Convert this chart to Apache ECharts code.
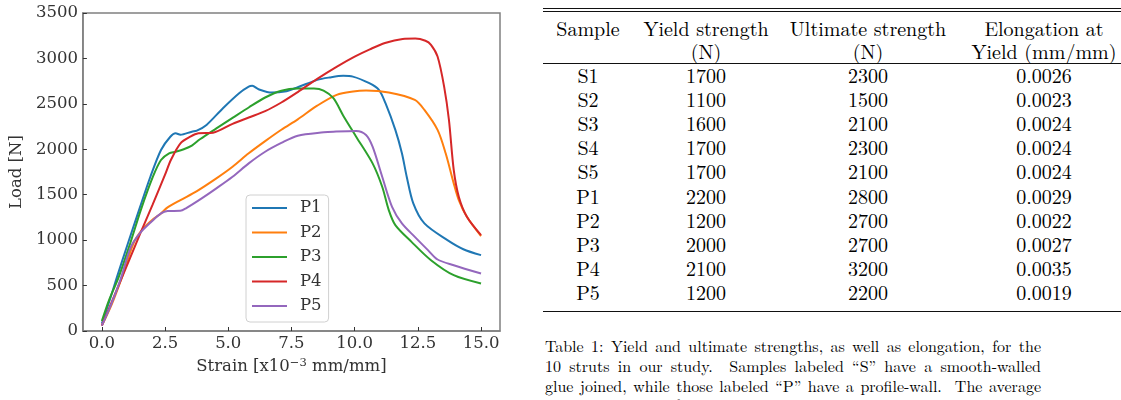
<!DOCTYPE html>
<html>
<head>
<meta charset="utf-8">
<script src="https://cdn.jsdelivr.net/npm/echarts@6/dist/echarts.min.js"></script>
<style>
  html, body { margin: 0; padding: 0; width: 1121px; height: 400px; overflow: hidden; background: #fff; }
  #chart { position: absolute; left: 0; top: 0; width: 530px; height: 400px; }
  .rule { position: absolute; left: 543px; width: 578px; background: #111; }
  .cell { position: absolute; transform: translate(-50%, -50%); white-space: nowrap;
          font-family: "Latin Modern Roman", "Liberation Serif", serif; font-size: 20px; color: #000; line-height: 22px; }
  .cap { position: absolute; left: 545px; height: 20px; line-height: 20px;
         font-family: "Latin Modern Roman", "Liberation Serif", serif; font-size: 16px; color: #000;
         white-space: pre; }
</style>
</head>
<body>
<div id="chart"></div>
<div id="table"></div>
<script>
// ---- chart data ----
const seriesNames = ["P1", "P2", "P3", "P4", "P5"];
const strainP1 = [0, 0.3, 0.6, 1.03, 1.47, 1.92, 2.34, 2.7, 2.92, 3.11, 3.56, 3.76, 4.14, 4.79, 5.43, 5.81, 5.95, 6.2, 6.72, 7.23, 7.75, 8.52, 9.0, 9.55, 9.93, 10.58, 10.96, 11.22, 11.61, 11.87, 12.06, 12.32, 12.76, 13.67, 14.3, 15.0];
const loadP1   = [82, 330, 596, 963, 1331, 1698, 1992, 2135, 2176, 2160, 2194, 2205, 2268, 2452, 2617, 2690, 2698, 2661, 2624, 2635, 2683, 2764, 2790, 2808, 2800, 2727, 2654, 2507, 2213, 1956, 1698, 1404, 1184, 1000, 900, 835];
const strainP2 = [0, 0.4, 0.8, 1.25, 1.61, 2.0, 2.34, 2.6, 3.11, 3.76, 4.53, 5.17, 5.81, 6.46, 7.1, 7.75, 8.52, 9.29, 9.94, 10.45, 11.35, 12.38, 12.76, 13.28, 13.6, 13.92, 14.12, 14.44, 15.0];
const loadP2   = [60, 300, 596, 963, 1120, 1225, 1294, 1360, 1441, 1540, 1680, 1808, 1956, 2090, 2215, 2330, 2480, 2599, 2636, 2646, 2624, 2543, 2433, 2213, 1956, 1625, 1441, 1257, 1045];
const strainP3 = [0, 0.3, 0.67, 1.12, 1.54, 2.02, 2.34, 2.66, 2.92, 3.24, 3.56, 3.88, 4.53, 5.17, 5.81, 6.46, 7.1, 7.75, 8.39, 8.77, 9.16, 9.55, 10.06, 10.71, 11.09, 11.35, 11.61, 12.25, 13.02, 13.92, 15.0];
const loadP3   = [110, 350, 596, 963, 1331, 1698, 1882, 1955, 1973, 2000, 2040, 2110, 2230, 2345, 2460, 2570, 2645, 2668, 2668, 2646, 2562, 2370, 2139, 1845, 1588, 1331, 1165, 981, 779, 614, 523];
const strainP4 = [0, 0.73, 1.5, 2.0, 2.5, 2.73, 3.11, 3.5, 3.82, 4.4, 5.17, 5.81, 6.46, 7.1, 7.75, 8.52, 9.3, 10.0, 10.6, 11.2, 11.9, 12.4, 12.8, 13.02, 13.28, 13.54, 13.73, 13.92, 14.12, 14.44, 15.0];
const loadP4   = [60, 545, 1060, 1385, 1720, 1882, 2066, 2139, 2176, 2183, 2280, 2350, 2420, 2515, 2630, 2775, 2910, 3020, 3100, 3170, 3215, 3220, 3195, 3150, 3021, 2690, 2323, 1772, 1478, 1257, 1055];
const strainP5 = [0, 0.35, 0.73, 1.14, 1.5, 1.95, 2.34, 2.6, 3.1, 3.31, 3.95, 4.53, 5.17, 5.81, 6.46, 7.1, 7.75, 8.78, 9.16, 10.06, 10.45, 10.71, 11.09, 11.48, 11.87, 12.38, 12.9, 13.28, 13.92, 15.0];
const loadP5   = [60, 280, 560, 920, 1074, 1200, 1294, 1320, 1323, 1348, 1460, 1570, 1698, 1845, 1973, 2070, 2150, 2187, 2194, 2202, 2158, 2029, 1698, 1367, 1184, 1036, 890, 787, 724, 632];
const xTicks = [0, 2.5, 5, 7.5, 10, 12.5, 15];

// ---- table data ----
const headerLine1 = ["Sample", "Yield strength", "Ultimate strength", "Elongation at"];
const headerLine2 = ["", "(N)", "(N)", "Yield (mm/mm)"];
const samples   = ["S1", "S2", "S3", "S4", "S5", "P1", "P2", "P3", "P4", "P5"];
const yieldN    = ["1700", "1100", "1600", "1700", "1700", "2200", "1200", "2000", "2100", "1200"];
const ultimateN = ["2300", "1500", "2100", "2300", "2100", "2800", "2700", "2700", "3200", "2200"];
const elongation = ["0.0026", "0.0023", "0.0024", "0.0024", "0.0024", "0.0029", "0.0022", "0.0027", "0.0035", "0.0019"];
const captionLines = [
  "Table 1: Yield and ultimate strengths, as well as elongation, for the",
  "10 struts in our study.  Samples labeled \u201cS\u201d have a smooth-walled",
  "glue joined, while those labeled \u201cP\u201d have a profile-wall.  The average",
  "ultimate strength for the smooth-walled struts is 2000 \u00b1 300N, while"
];

// ---- build chart ----
const colors = ["#1f77b4", "#ff7f0e", "#2ca02c", "#d62728", "#9467bd"];
const strains = [strainP1, strainP2, strainP3, strainP4, strainP5];
const loads = [loadP1, loadP2, loadP3, loadP4, loadP5];
const FONT = "'DejaVu Serif', serif";
const FS = 16.5;

const chart = echarts.init(document.getElementById("chart"), null, { renderer: "canvas" });
chart.setOption({
  animation: false,
  color: colors,
  grid: { left: 73, top: 13, width: 427, height: 318, show: true, borderColor: "#808080", borderWidth: 1.5, backgroundColor: "transparent" },
  xAxis: {
    type: "value", min: -0.75, max: 15.75,
    axisLine: { show: true, onZero: false, lineStyle: { color: "#808080", width: 1.5 } },
    axisTick: { show: true, inside: true, length: 4, customValues: xTicks, lineStyle: { color: "#333" } },
    axisLabel: { customValues: xTicks, margin: 4, color: "#333", fontFamily: FONT, fontSize: FS,
                 formatter: v => Number(v).toFixed(1) },
    splitLine: { show: false },
    name: "Strain [x10{sup|\u22123} mm/mm]", nameLocation: "middle", nameGap: 24,
    nameTextStyle: { color: "#333", fontFamily: FONT, fontSize: FS,
      rich: { sup: { fontFamily: FONT, fontSize: 11.5, color: "#333", padding: [0, 0, 8, 0] } } }
  },
  yAxis: {
    type: "value", min: 0, max: 3500, interval: 500,
    axisLine: { show: true, onZero: false, lineStyle: { color: "#808080", width: 1.5 } },
    axisTick: { show: true, inside: true, length: 4, lineStyle: { color: "#333" } },
    axisLabel: { margin: 5, color: "#333", fontFamily: FONT, fontSize: FS, formatter: v => String(v) },
    splitLine: { show: false },
    name: "Load [N]", nameLocation: "middle", nameGap: 51,
    nameTextStyle: { color: "#333", fontFamily: FONT, fontSize: FS }
  },
  legend: {
    orient: "vertical", left: 246, top: 195,
    data: seriesNames,
    icon: "rect", itemWidth: 35, itemHeight: 2, itemGap: 6.5,
    padding: [4, 7, 7, 6],
    backgroundColor: "rgba(255,255,255,0.8)", borderColor: "#d0d0d0", borderWidth: 1, borderRadius: 4,
    textStyle: { fontFamily: FONT, fontSize: FS, color: "#333", lineHeight: 18, padding: [0, 0, 0, 8] }
  },
  series: seriesNames.map((n, i) => ({
    name: n, type: "line", smooth: 0.3, showSymbol: false, symbol: "none",
    lineStyle: { width: 2, color: colors[i] },
    itemStyle: { color: colors[i] },
    data: strains[i].map((x, j) => [x, loads[i][j]])
  }))
});

// ---- build table ----
const tbl = document.getElementById("table");
function rule(top, h) {
  const d = document.createElement("div"); d.className = "rule";
  d.style.top = top + "px"; d.style.height = h + "px"; tbl.appendChild(d);
}
function cell(text, cx, cy) {
  const d = document.createElement("div"); d.className = "cell";
  d.textContent = text; d.style.left = cx + "px"; d.style.top = cy + "px"; tbl.appendChild(d);
}
const colX = [588, 706, 868, 1044];
rule(8, 1); rule(11, 1); rule(63, 1.2); rule(311, 1.2);
headerLine1.forEach((t, i) => cell(t, colX[i], 28));
headerLine2.forEach((t, i) => { if (t) cell(t, colX[i], 51); });
samples.forEach((s, r) => {
  const cy = 75 + r * 24.1;
  cell(s, colX[0], cy); cell(yieldN[r], colX[1], cy); cell(ultimateN[r], colX[2], cy); cell(elongation[r], colX[3], cy);
});
const capWidth = 496;
captionLines.forEach((t, i) => {
  const d = document.createElement("div"); d.className = "cap";
  d.textContent = t; d.style.top = (336 + i * 19.8) + "px"; tbl.appendChild(d);
  const natural = d.getBoundingClientRect().width;
  const spaces = (t.match(/ /g) || []).length;
  if (spaces > 0) d.style.wordSpacing = ((capWidth - natural) / spaces) + "px";
});
</script>
</body>
</html>
